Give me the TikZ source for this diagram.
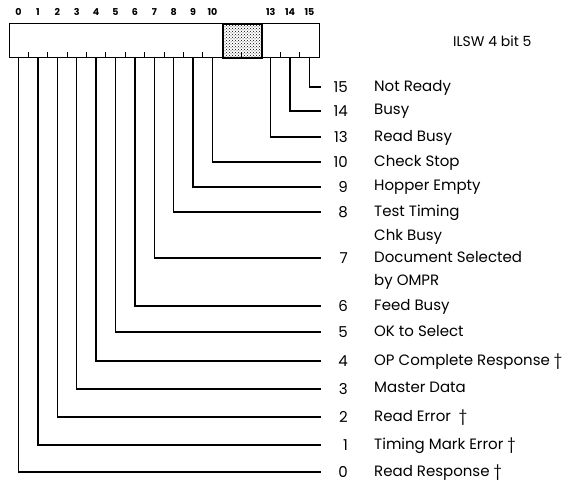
\documentclass[tikz,border=0pt]{standalone}
\usepackage{fontspec}
\setmainfont{Poppins}
\usetikzlibrary{patterns}

\begin{document}
\begin{tikzpicture}[
  x=1pt, y=-1pt,
  wire/.style={line width=1.4pt},
  bitno/.style={font=\fontsize{9.5}{10}\selectfont\bfseries, inner sep=0pt},
  num/.style={font=\fontsize{15}{17}\selectfont, inner sep=0pt, text width=27pt, align=right, anchor=east},
  desc/.style={font=\fontsize{15}{23.5}\selectfont, inner sep=0pt, align=left, anchor=north west}
]
\useasboundingbox (0,0) rectangle (574,483);
% the register and its unused field
\node[draw, line width=1.4pt, minimum width=310pt, minimum height=34pt, inner sep=0pt, anchor=north west] (reg) at (9,23) {};
\node[draw, line width=2pt, pattern=crosshatch dots, minimum width=39pt, minimum height=34pt, inner sep=0pt, anchor=north west] (spare) at (222,23) {};
\foreach \b in {1,...,10,12,14,15}
  \draw[line width=1pt] (8.8+19.4*\b,57) -- ++(0,-5);
\foreach \i in {0,...,10,13,14,15}
  \node[bitno] (t\i) at (18.5+19.4*\i,12) {\i};
\node[font=\fontsize{14}{16}\selectfont, inner sep=0pt, anchor=west] (title) at (453,41) {ILSW 4 bit 5};
% bit lines
\foreach \i/\y/\txt in {15/87/Not Ready, 14/111/Busy, 13/137/Read Busy,
    10/162/Check Stop, 9/187/Hopper Empty, 8/212/{Test Timing\\ Chk Busy},
    7/258/{Document Selected\\by OMPR}, 6/306/Feed Busy, 5/332/OK to Select,
    4/361/OP Complete Response \dag, 3/389/Master Data, 2/417/Read Error \ \dag,
    1/445/Timing Mark Error \dag, 0/472/Read Response \dag}{
  \coordinate (b\i) at (18.5+19.4*\i,57);
  \node[num] (n\i) at (348,\y) {\i};
  \node[desc] (d\i) at (374,\y-7) {\txt};
  \draw[wire] (b\i) |- (n\i.west);
}
\end{tikzpicture}
\end{document}
